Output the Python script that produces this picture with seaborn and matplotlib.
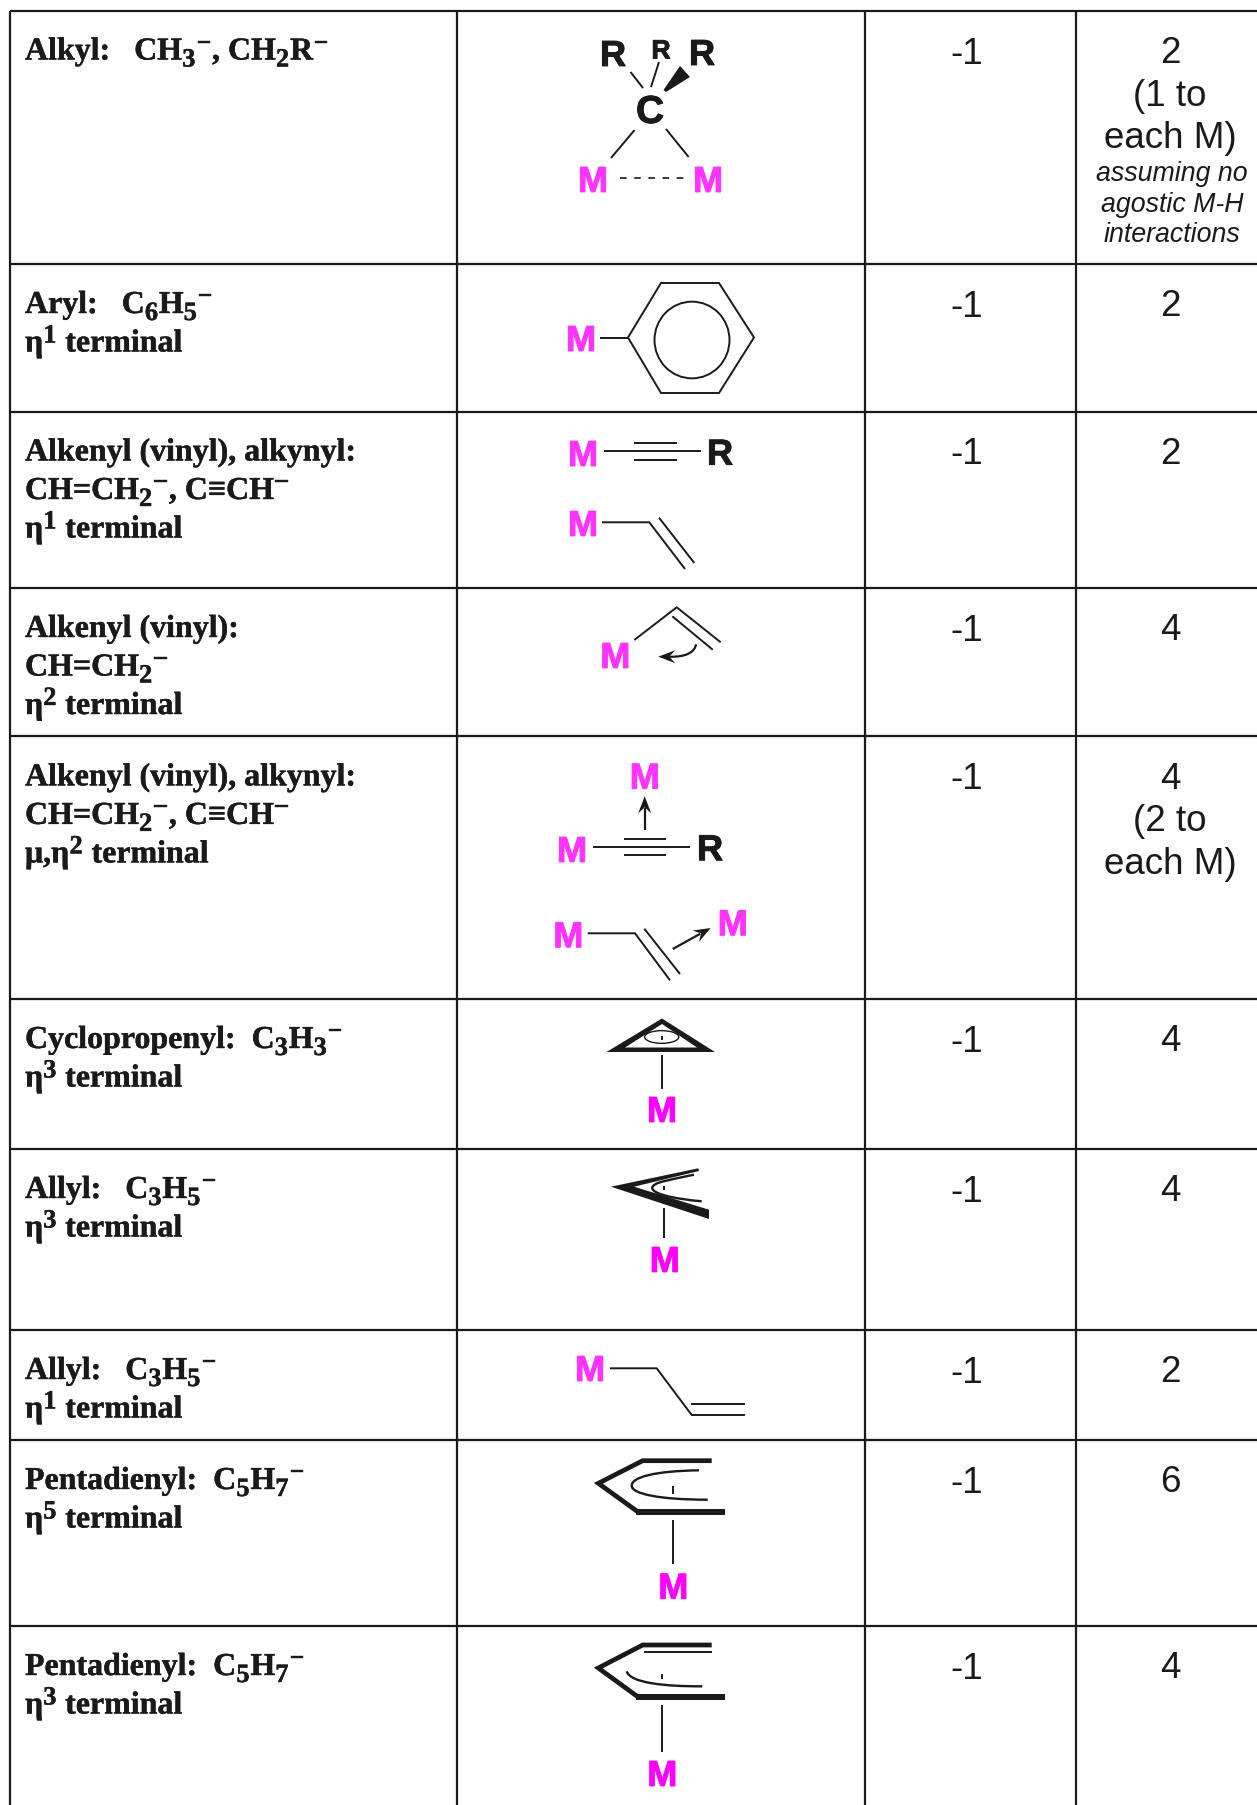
import matplotlib
matplotlib.use('Agg')
import matplotlib.patheffects as pe
import matplotlib.pyplot as plt
import numpy as np
import pandas as pd
import seaborn as sns
from matplotlib.patches import Ellipse, PathPatch, Polygon
from matplotlib.path import Path

sns.set_theme(style='white')

# table contents
col_lines = [10.4, 457.4, 864.5, 1075.5]
row_tops = [11.5, 265, 412.5, 589, 737.4, 1000, 1150, 1331, 1441, 1627]
# _x = subscript, ^x = superscript
labels = [
    ['Alkyl:   CH_3^−, CH_2R^−'],
    ['Aryl:   C_6H_5^−', 'η^1 terminal'],
    ['Alkenyl (vinyl), alkynyl:', 'CH=CH_2^−, C≡CH^−', 'η^1 terminal'],
    ['Alkenyl (vinyl):', 'CH=CH_2^−', 'η^2 terminal'],
    ['Alkenyl (vinyl), alkynyl:', 'CH=CH_2^−, C≡CH^−', 'μ,η^2 terminal'],
    ['Cyclopropenyl:  C_3H_3^−', 'η^3 terminal'],
    ['Allyl:   C_3H_5^−', 'η^3 terminal'],
    ['Allyl:   C_3H_5^−', 'η^1 terminal'],
    ['Pentadienyl:  C_5H_7^−', 'η^5 terminal'],
    ['Pentadienyl:  C_5H_7^−', 'η^3 terminal'],
]
charges = ['-1'] * 10
electrons = [
    ['2', '(1 to', 'each M)'],
    ['2'],
    ['2'],
    ['4'],
    ['4', '(2 to', 'each M)'],
    ['4'],
    ['4'],
    ['2'],
    ['6'],
    ['4'],
]
electron_note = ['assuming no', 'agostic M-H', 'interactions']

# structure drawings, in picture pixels
thin_bonds = [
    [(630.5, 73), (643, 89)], [(659, 63), (651, 88)], [(634.6, 131), (611, 159)], [(666, 130), (688.6, 158)],
    [(600, 338.5), (628, 338.5)],
    [(628, 338.5), (661, 284), (719, 284), (754, 338.5), (719, 394), (661, 394), (628, 338.5)],
    [(604, 452.3), (700.7, 452.3)], [(634.3, 444.3), (676.7, 444.3)], [(634.3, 460.7), (676.7, 460.7)],
    [(602, 523.3), (649.3, 523.3), (685, 570)], [(659, 518.7), (694.3, 564)],
    [(634.3, 641), (676.7, 608.3), (720.7, 643.3)], [(672.3, 617.3), (712.7, 650.7)],
    [(593, 848), (690, 848)], [(623.7, 840), (666, 840)], [(623.7, 856.3), (666, 856.3)],
    [(587.7, 934.3), (635, 934.3), (670, 981.3)], [(644.3, 929.7), (680, 975)],
    [(662, 1037.3), (662, 1040.7)], [(662, 1056), (662, 1090)],
    [(664.3, 1187.3), (664.3, 1190.7)], [(664.3, 1209.3), (664.3, 1239.3)],
    [(610, 1369.3), (656.7, 1369.3), (691.7, 1416), (745, 1416)], [(690.7, 1404.7), (745, 1404.7)],
    [(673.3, 1487.3), (673.3, 1495)], [(673.3, 1520.7), (673.3, 1565)],
    [(644, 1653.3), (711.7, 1653.3)],
    [(662, 1675), (662, 1680)], [(662, 1705.7), (662, 1753.3)],
]
medium_bonds = [
    [(711.7, 1461.7), (642.7, 1461.7), (598.3, 1484.3), (637.7, 1512.7)],
    [(711.7, 1646), (642.7, 1646), (598.3, 1669), (637.7, 1697.7)],
]
heavy_bonds = [
    [(636, 1512.7), (725, 1512.7)],
    [(636, 1697.7), (725, 1697.7)],
]
filled_shapes = [
    [(663.5, 91), (666, 93), (690, 78), (680, 67)],
    [(611, 1187.7), (698.3, 1169.3), (699, 1172), (634, 1187.7), (709, 1210.7), (709, 1220)],
]
# curved delocalised bonds: start, then (control, control, end) pieces
curves = [
    ((694, 1175.7), [((670, 1181), (652.3, 1183), (652.3, 1189)), ((652.3, 1195), (675, 1200), (701.7, 1202.3))]),
    ((699, 1471.3), [((655, 1472), (631.7, 1478), (631.7, 1486.7)), ((631.7, 1495), (660, 1500.7), (707.7, 1500.7))]),
    ((626.7, 1672.3), [((630, 1684), (665, 1687.5), (702.3, 1687.3))]),
]
atoms = [
    (613, 54, 'R', 26, 'k'), (661, 50, 'R', 19, 'k'), (702, 53, 'R', 26, 'k'), (650, 110, 'C', 28, 'k'),
    (593, 180, 'M', 26, '#ff33ff'), (708, 180, 'M', 26, '#ff33ff'),
    (581, 339, 'M', 26, '#ff33ff'),
    (583, 454, 'M', 26, '#ff33ff'), (720, 452.7, 'R', 26, 'k'), (583, 524, 'M', 26, '#ff33ff'),
    (615.3, 656, 'M', 26, '#ff33ff'),
    (644.7, 776.7, 'M', 26, '#ff33ff'), (572, 850, 'M', 26, '#ff33ff'), (710, 848.3, 'R', 26, 'k'),
    (568.3, 935.3, 'M', 26, '#ff33ff'), (732.7, 923.3, 'M', 26, '#ff33ff'),
    (662, 1110, 'M', 26, '#ff00ff'), (664.7, 1260, 'M', 26, '#ff00ff'),
    (590, 1369, 'M', 26, '#ff33ff'), (673.3, 1586.7, 'M', 26, '#ff00ff'), (662.3, 1774, 'M', 26, '#ff00ff'),
]
# straight arrows: start of shaft, tip
arrows = [
    ((644.7, 831), (644.7, 797.3)),
    ((672.7, 950), (710.7, 929)),
]


def draw_bonds(ax, bonds, width):
    """Trace une liste de liaisons avec seaborn"""
    rows = []
    for i, bond in enumerate(bonds):
        for x, y in bond:
            rows.append({'bond': i, 'x': x, 'y': y})
    df = pd.DataFrame(rows)
    sns.lineplot(data=df, x='x', y='y', units='bond', estimator=None, sort=False,
                 color='k', linewidth=width, legend=False, ax=ax, zorder=5,
                 solid_capstyle='butt', solid_joinstyle='miter')


def draw_curve(ax, start, pieces, width=1.7):
    verts = [start]
    codes = [Path.MOVETO]
    for piece in pieces:
        verts.extend(piece)
        codes.extend([Path.CURVE4] * 3)
    ax.add_patch(PathPatch(Path(verts, codes), fill=False, ec='k', lw=width, capstyle='butt', zorder=5))


def arrow_head(ax, tip, direction, length=17, half=6.5, notch=11):
    """Pointe de fleche effilee"""
    d = np.array(direction, dtype=float)
    d = d / np.hypot(*d)
    n = np.array([-d[1], d[0]])
    t = np.array(tip)
    pts = [t, t - d * length + n * half, t - d * notch, t - d * length - n * half]
    ax.add_patch(Polygon(pts, fc='k', ec='none', zorder=5))


def text_width(ax, renderer, s, **kw):
    bar = ax.text(0, 0, '|', **kw)
    both = ax.text(0, 0, s + '|', **kw)
    w = both.get_window_extent(renderer).width - bar.get_window_extent(renderer).width
    bar.remove()
    both.remove()
    return w


def draw_label(ax, renderer, x, y, line):
    """Ecrit une ligne avec indices et exposants"""
    i = 0
    buf = ''
    parts = []
    while i < len(line):
        if line[i] in '_^':
            if buf:
                parts.append((buf, 0))
                buf = ''
            parts.append((line[i + 1], 7 if line[i] == '_' else -9))
            i += 2
        else:
            buf += line[i]
            i += 1
    if buf:
        parts.append((buf, 0))
    for s, shift in parts:
        size = 23 if shift == 0 else 19
        kw = dict(family='Liberation Serif', weight='bold', fontsize=size, color='k', va='baseline')
        t = ax.text(x, y + shift, s, **kw)
        t.set_path_effects([pe.withStroke(linewidth=0.3, foreground='k')])
        x += text_width(ax, renderer, s, **kw) + (0 if shift == 0 else 0.8)


fig = plt.figure(figsize=(12.57, 18.06), dpi=100)
ax = fig.add_axes([0, 0, 1, 1])
renderer = fig.canvas.get_renderer()

draw_bonds(ax, thin_bonds, 1.4)
draw_bonds(ax, medium_bonds, 3.4)
draw_bonds(ax, heavy_bonds, 4.3)
for start, pieces in curves:
    draw_curve(ax, start, pieces)

# pointilles entre les deux M
sns.lineplot(x=[620, 685.4], y=[179.3, 179.3], color='k', linewidth=1.2,
             linestyle=(0, (4, 4.5)), legend=False, ax=ax)

ax.add_patch(Ellipse((692, 341), 75, 76.7, fill=False, ec='k', lw=1.4))
ax.add_patch(Ellipse((661.7, 1038), 34, 12.7, fill=False, ec='k', lw=1.0, zorder=4))
# cyclopropenyl
ax.add_patch(Polygon([(662, 1019.5), (606.5, 1053), (715, 1053)], fc='k', ec='none', zorder=3))
ax.add_patch(Polygon([(662, 1025), (625, 1048.5), (697, 1048.5)], fc='w', ec='none', zorder=3))
for shape in filled_shapes:
    ax.add_patch(Polygon(shape, fc='k', ec='none', zorder=5))

for start, tip in arrows:
    d = np.array(tip) - np.array(start)
    end = np.array(tip) - d / np.hypot(*d) * 12
    draw_bonds(ax, [[start, tuple(end)]], 1.6)
    arrow_head(ax, tip, d)
# fleche courbe du vinyl eta2
draw_curve(ax, (696, 645.3), [((695, 652), (688, 658.5), (668, 657.7))], width=1.6)
arrow_head(ax, (658.3, 657.7), (-1, 0))

for x, y, s, size, col in atoms:
    t = ax.text(x, y + 0.358 * size * 100 / 72, s, family='Liberation Sans', weight='bold',
                fontsize=size, color=col, ha='center', va='baseline')
    t.set_path_effects([pe.withStroke(linewidth=0.7, foreground=col)])

# grille du tableau
ax.hlines(row_tops, col_lines[0], 1257, color='k', lw=1.6)
ax.vlines(col_lines, row_tops[0], 1806, color='k', lw=1.6)

for top, lines, charge, elec in zip(row_tops, labels, charges, electrons):
    for k, line in enumerate(lines):
        draw_label(ax, renderer, 25, top + 49 + k * 38.5, line)
    ax.text(967, top + 52, charge, family='Liberation Sans', fontsize=26.5, color='k', ha='center', va='baseline')
    for k, line in enumerate(elec):
        ax.text(1170, top + 51.5 + k * 42.5, line, family='Liberation Sans', fontsize=26.5,
                color='k', ha='center', va='baseline')

for k, line in enumerate(electron_note):
    ax.text(1172, 181 + k * 30.5, line, family='Liberation Sans', style='italic', fontsize=19.3,
            color='k', ha='center', va='baseline')

ax.set_xlim(0, 1257)
ax.set_ylim(1806, 0)
ax.axis('off')
fig.savefig('out.png', dpi=100, facecolor='white')
plt.close(fig)
